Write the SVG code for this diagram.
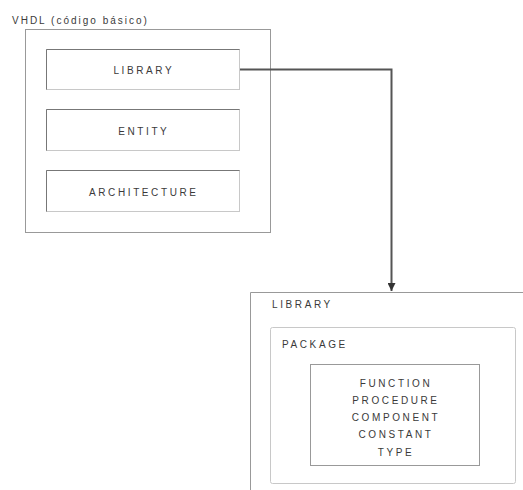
<svg xmlns="http://www.w3.org/2000/svg" width="523" height="490" viewBox="0 0 523 490">
<style>
text{font-family:"Liberation Sans",Arial,sans-serif;font-size:10px;fill:#3a3a3a;letter-spacing:2.6px}
.c{text-anchor:middle}
.box{fill:none;stroke:#999;stroke-width:1}
.lt{fill:none;stroke:#c8c8c8;stroke-width:1}
.dk{fill:none;stroke:#777;stroke-width:1}
.conn{fill:none;stroke:#555;stroke-width:2}
</style>
<defs>
<marker id="ah" viewBox="0 0 8 8" refX="8" refY="4" markerWidth="4" markerHeight="4" orient="auto" markerUnits="strokeWidth">
<path d="M0,0 L8,4 L0,8 Z" fill="#333"/>
</marker>
</defs>
<rect width="523" height="490" fill="#fff"/>
<g id="vhdl">
<text x="12" y="24" style="letter-spacing:2px">VHDL (código básico)</text>
<rect class="box" x="25.5" y="29.5" width="245" height="203"/>
</g>
<g id="library-top">
<rect class="lt" x="46.5" y="49.5" width="193" height="40"/>
<path class="dk" d="M46.5,89.5 V49.5 H239.5"/>
<text class="c" x="143.8" y="74">LIBRARY</text>
</g>
<g id="entity">
<rect class="lt" x="46.5" y="109.5" width="193" height="41"/>
<path class="dk" d="M46.5,150.5 V109.5 H239.5"/>
<text class="c" x="143.8" y="135">ENTITY</text>
</g>
<g id="architecture">
<rect class="lt" x="46.5" y="170.5" width="193" height="41"/>
<path class="dk" d="M46.5,211.5 V170.5 H239.5"/>
<text class="c" x="143.8" y="196">ARCHITECTURE</text>
</g>
<g id="connectors">
<path class="conn" d="M240,69.5 H391.5 V291" marker-end="url(#ah)"/>
</g>
<g id="library-bottom">
<path class="box" d="M250.5,495 V292.5 H530"/>
<text x="272" y="307.5">LIBRARY</text>
</g>
<g id="package">
<rect class="lt" x="270.5" y="327.5" width="245" height="156" rx="2"/>
<text x="282" y="348">PACKAGE</text>
</g>
<g id="contents">
<rect class="box" x="310.5" y="364.5" width="169" height="101"/>
<text class="c" x="396" y="387">FUNCTION</text>
<text class="c" x="396" y="404">PROCEDURE</text>
<text class="c" x="396" y="421">COMPONENT</text>
<text class="c" x="396" y="438">CONSTANT</text>
<text class="c" x="396" y="456">TYPE</text>
</g>
</svg>
